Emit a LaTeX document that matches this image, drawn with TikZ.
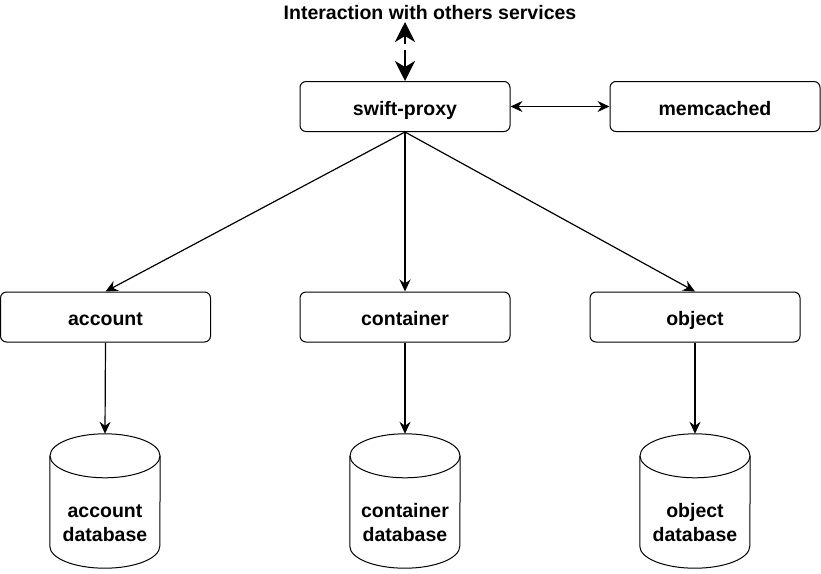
\documentclass[tikz,border=0pt]{standalone}
\usepackage{fontspec}
\setmainfont{Liberation Sans}
\usetikzlibrary{arrows.meta}
\tikzset{
  box/.style={draw, line width=1pt, rounded corners=6pt, minimum width=210pt, minimum height=50pt, inner sep=0pt, text height=17pt, text depth=0pt, font=\fontsize{19.5}{23}\selectfont\bfseries},
  db/.style={minimum width=110pt, minimum height=134pt, inner sep=0pt},
  dbtext/.style={inner sep=0pt, align=center, font=\fontsize{19.5}{24}\selectfont\bfseries},
  dbline/.style={line width=1pt},
  conn/.style={line width=1.2pt, -{Stealth[length=12pt,width=11pt,inset=4pt]}},
  biconn/.style={line width=1.2pt, {Stealth[length=12pt,width=11pt,inset=4pt]}-{Stealth[length=12pt,width=11pt,inset=4pt]}},
  thick conn/.style={line width=2.5pt, -{Stealth[length=20pt,width=20pt,inset=6pt]}},
  lbl/.style={inner sep=0pt, font=\fontsize{19.5}{23}\selectfont\bfseries}
}
\newcommand{\cyl}[1]{%
  \draw[dbline] ([yshift=-22pt]#1.north) ellipse [x radius=55pt, y radius=22pt];
  \draw[dbline] ([yshift=-22pt]#1.north west) -- ([yshift=22pt]#1.south west)
    arc [start angle=180, end angle=360, x radius=55pt, y radius=22pt]
    -- ([yshift=-22pt]#1.north east);
}
\begin{document}
\begin{tikzpicture}[x=1pt,y=-1pt]
\useasboundingbox (0,0) rectangle (821,573);
\node[lbl] (title) at (430,13) {Interaction with others services};
\node[box] (proxy) at (405,106.5) {swift-proxy};
\node[box] (mem) at (715,106.5) {memcached};
\node[box] (account) at (105.5,317) {account};
\node[box] (container) at (405,317) {container};
\node[box] (object) at (695,317) {object};
\node[db] (adb) at (105,501) {};
\node[db] (cdb) at (405,501) {};
\node[db] (odb) at (695,501) {};
\cyl{adb}\cyl{cdb}\cyl{odb}
\node[dbtext] (adbt) at (105,523) {account\\database};
\node[dbtext] (cdbt) at (405,523) {container\\database};
\node[dbtext] (odbt) at (695,523) {object\\database};
\coordinate (upbase) at (405,44);
\coordinate (uptip) at (405,22);
\coordinate (downstart) at (405,50);
\draw[thick conn] (upbase) -- (uptip);
\draw[thick conn] (downstart) -- (proxy.north);
\draw[biconn] (proxy.east) -- (mem.west);
\draw[conn] (proxy.south) -- (account.north);
\draw[conn] (proxy.south) -- (container.north);
\draw[conn] (proxy.south) -- (object.north);
\draw[conn] (account.south) -- (adb.north);
\draw[conn] (container.south) -- (cdb.north);
\draw[conn] (object.south) -- (odb.north);
\end{tikzpicture}
\end{document}
